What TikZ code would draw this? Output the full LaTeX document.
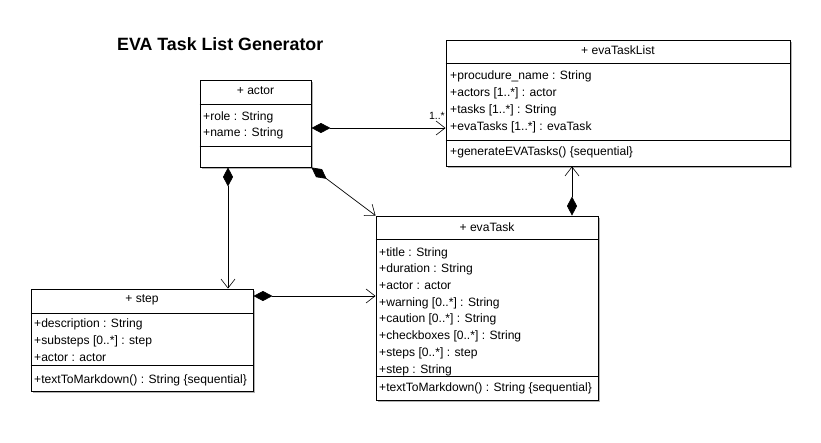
\documentclass[tikz,border=0pt]{standalone}
\usepackage{fontspec}
\setmainfont{Liberation Sans}
\usetikzlibrary{arrows.meta,shadows,calc}
\tikzset{
  umlbox/.style={draw=black, line width=0.9pt, fill=white, rectangle, inner sep=0pt,
    general shadow={fill=black!30, shadow xshift=1.6pt, shadow yshift=-1.6pt}},
  row/.style={anchor=base west, inner sep=0pt, font=\fontsize{12.1}{14}\selectfont},
  head/.style={anchor=base, inner sep=0pt, font=\fontsize{12.1}{14}\selectfont},
  divider/.style={line width=0.9pt},
  comp/.style={line width=0.7pt, {Diamond[length=19pt,width=10pt]}-{Straight Barb[length=9pt,width=14pt,line width=0.6pt]}},
}
\begin{document}
\begin{tikzpicture}[x=1pt,y=-1pt]
\useasboundingbox (0,0) rectangle (821,442);
% title
\node[anchor=base west, inner sep=0pt, font=\fontsize{17.8}{20}\selectfont\bfseries] (title) at (117,50) {EVA Task List Generator};

% evaTaskList
\node[umlbox, minimum width=344pt, minimum height=126pt] (list) at (618,103) {};
\draw[divider] (list.west |- 0,63) -- (list.east |- 0,63);
\draw[divider] (list.west |- 0,140) -- (list.east |- 0,140);
\node[head] (listh) at (618,54) {+ evaTaskList};
\node[row] (l1) at (450,79) {+procudure\_name : String};
\node[row] (l2) at (450,96) {+actors [1..*] : actor};
\node[row] (l3) at (450,113) {+tasks [1..*] : String};
\node[row] (l4) at (450,130) {+evaTasks [1..*] : evaTask};
\node[row] (l5) at (450,155) {+generateEVATasks() \{sequential\}};

% actor
\node[umlbox, minimum width=111pt, minimum height=87pt] (actor) at (255.5,123.5) {};
\draw[divider] (actor.west |- 0,104) -- (actor.east |- 0,104);
\draw[divider] (actor.west |- 0,146) -- (actor.east |- 0,146);
\node[head] (actorh) at (255.5,94) {+ actor};
\node[row] (a1) at (203,120) {+role : String};
\node[row] (a2) at (203,136) {+name : String};

% evaTask
\node[umlbox, minimum width=222pt, minimum height=184pt] (etask) at (487,308) {};
\draw[divider] (etask.west |- 0,239) -- (etask.east |- 0,239);
\draw[divider] (etask.west |- 0,376) -- (etask.east |- 0,376);
\node[head] (etaskh) at (487,231) {+ evaTask};
\node[row] (e1) at (379,256) {+title : String};
\node[row] (e2) at (379,272.5) {+duration : String};
\node[row] (e3) at (379,289) {+actor : actor};
\node[row] (e4) at (379,306) {+warning [0..*] : String};
\node[row] (e5) at (379,322.5) {+caution [0..*] : String};
\node[row] (e6) at (379,339.5) {+checkboxes [0..*] : String};
\node[row] (e7) at (379,356.5) {+steps [0..*] : step};
\node[row] (e8) at (379,373) {+step : String};
\node[row] (e9) at (379,391) {+textToMarkdown() : String \{sequential\}};

% step
\node[umlbox, minimum width=222pt, minimum height=102pt] (step) at (142,340) {};
\draw[divider] (step.west |- 0,313) -- (step.east |- 0,313);
\draw[divider] (step.west |- 0,365) -- (step.east |- 0,365);
\node[head] (steph) at (142,302.5) {+ step};
\node[row] (s1) at (34,327) {+description : String};
\node[row] (s2) at (34,344) {+substeps [0..*] : step};
\node[row] (s3) at (34,361) {+actor : actor};
\node[row] (s4) at (34,383.5) {+textToMarkdown() : String \{sequential\}};

% connectors
\draw[comp] ([yshift=-4.5pt]actor.east) coordinate (c1) -- (c1 -| list.west);
\node[anchor=base east, inner sep=0pt, font=\fontsize{10.5}{12}\selectfont] (mult) at (445,119.5) {1..*};
\draw[comp] ([xshift=-27.5pt]actor.south) coordinate (c2) -- (c2 |- step.north);
\draw[comp] (actor.south east) -- (etask.north west);
\draw[comp] ([yshift=44pt]step.east) coordinate (c4) -- (c4 -| etask.west);
\draw[comp] ([xshift=85pt]etask.north) coordinate (c5) -- (c5 |- list.south);
\end{tikzpicture}
\end{document}
